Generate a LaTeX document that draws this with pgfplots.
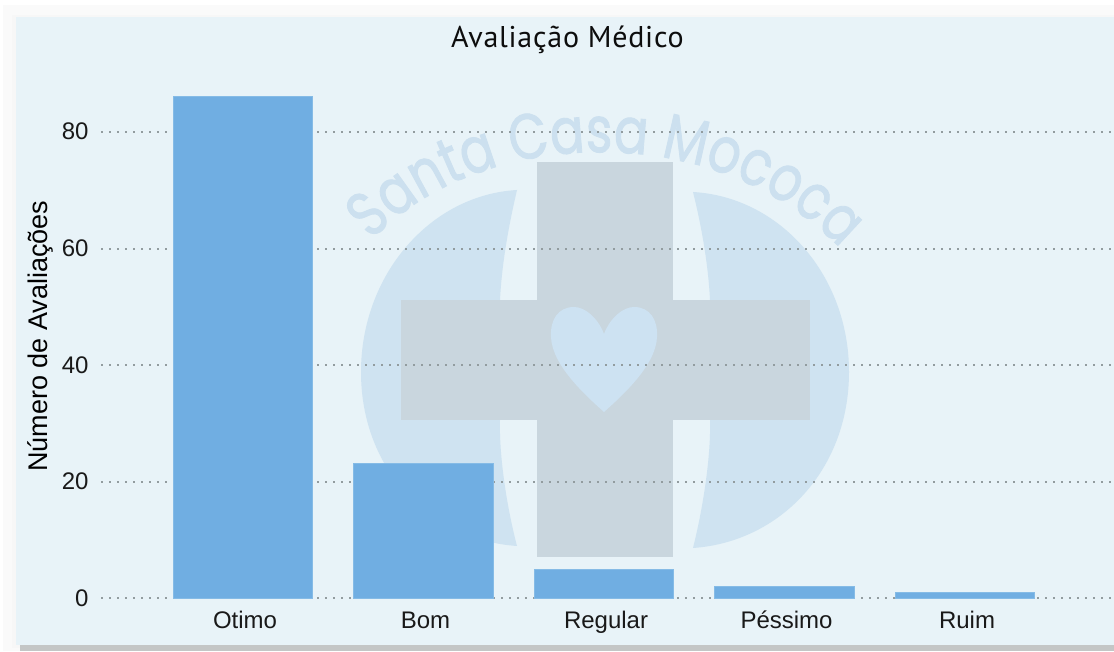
\documentclass[border=0pt]{standalone}
\usepackage{fontspec}
\usepackage{pgfplots}
\pgfplotsset{compat=1.18}
\usepackage{pgfplotstable}
\usetikzlibrary{decorations.text}
\setmainfont{Liberation Sans}
\newfontfamily\titlefont[LetterSpace=2.5]{PT Sans}
\newfontfamily\wmfont[FakeBold=1.4]{Poppins}
\definecolor{panel}{HTML}{E8F3F8}
\definecolor{barblue}{HTML}{70AEE2}
\definecolor{baredge}{HTML}{85BBE6}
\definecolor{lobe}{HTML}{CFE3F1}
\definecolor{crossc}{HTML}{C9D6DE}
\definecolor{wmtext}{HTML}{CCE0EF}
\definecolor{heartc}{HTML}{CDE2F2}
\definecolor{griddot}{HTML}{7F8A8E}
\definecolor{shadowc}{HTML}{C4C6C6}
\pgfplotstableread{
idx val
0 86.1
1 23.2
2 5
3 2.1
4 1.1
}\avaliacoes
\begin{document}
\begin{tikzpicture}
\useasboundingbox (0,0) rectangle (1114pt,651pt);
\begin{scope}[x=1pt,y=-1pt,shift={(0pt,651pt)}]
  \fill[white] (0,0) rectangle (1114,651);
  \fill[black!2] (3,5) rectangle (1114,651);
  \fill[white!50!black!6] (12,15) rectangle (1114,648);
  \fill[shadowc] (20,645) rectangle (1114,651);
  \fill[panel] (15.5,17) rectangle (1114,645);
  % watermark
  \fill[lobe] (517,190) .. controls (430,195) and (361,275) .. (361,372)
     .. controls (361,470) and (430,540) .. (517,546)
     .. controls (505,500) and (499,450) .. (500,420) -- (500,300)
     .. controls (502,260) and (510,220) .. cycle;
  \fill[lobe] (693,192) .. controls (780,197) and (849,275) .. (849,372)
     .. controls (849,470) and (780,542) .. (693,548)
     .. controls (705,500) and (711,450) .. (710,420) -- (710,300)
     .. controls (708,260) and (700,220) .. cycle;
  \fill[crossc] (537,162) rectangle (673,557);
  \fill[crossc] (401,300) rectangle (810,420);
  \fill[heartc] (604,334) .. controls (598,318) and (585,307) .. (574,307)
     .. controls (558,307) and (550,320) .. (551,337)
     .. controls (552,365) and (585,395) .. (604,412)
     .. controls (623,395) and (656,365) .. (657,337)
     .. controls (658,320) and (650,307) .. (634,307)
     .. controls (623,307) and (610,318) .. cycle;
  \path[decorate, decoration={text along path, text align=center,
     transform={yscale=1.25},
     text={|\fontsize{51}{51}\wmfont\color{wmtext}|Santa Casa Mococa}}]
     (345,275) .. controls (440,120) and (740,100) .. (868,282);
\end{scope}
\begin{axis}[
  at={(101pt,52.5pt)}, anchor=south west,
  scale only axis, width=1013pt, height=524.7pt,
  xmin=-0.7867, xmax=4.825, ymin=0, ymax=90,
  axis lines=none,
  hide x axis=false, hide y axis=false,
  axis line style={draw=none},
  major tick length=0pt,
  ytick={0,20,40,60,80},
  xtick=data,
  xticklabels={Otimo,Bom,Regular,Péssimo,Ruim},
  /pgf/number format/assume math mode=true,
  ticklabel style={font=\fontsize{24}{26}\selectfont, text=black!90},
  yticklabel style={xshift=-9pt, yshift=0.4pt},
  xticklabel style={text height=17pt, text depth=5pt, yshift=-9pt, xshift=2pt},
  ymajorgrids,
  grid style={draw=griddot!85, line width=2pt, dash pattern=on 2pt off 6pt},
  ylabel={Número de Avaliações},
  every axis y label/.style={at={(axis description cs:-0.0602,0.5)}, rotate=90, anchor=center, font=\fontsize{27}{29}\selectfont, text=black},
  title={\titlefont Avaliação Médico},
  every axis title/.style={at={(axis description cs:0.4604,1.0645)}, anchor=center, font=\fontsize{30}{32}\selectfont, text=black!95},
  ybar, bar width=0.772,
  enlargelimits=false,
]
\addplot[ybar, bar shift=0pt, fill=barblue, draw=baredge, line width=0.8pt] table[x=idx,y=val] {\avaliacoes};
\end{axis}
\end{tikzpicture}
\end{document}
